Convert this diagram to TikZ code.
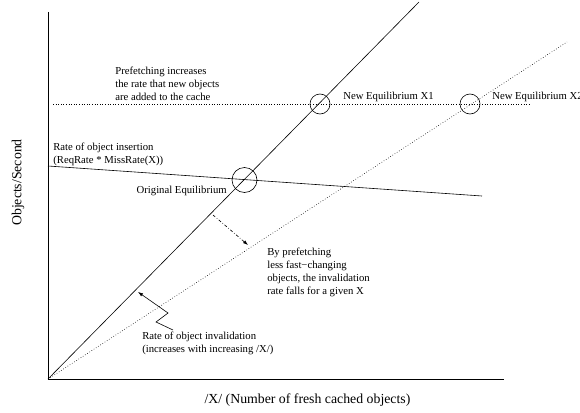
\documentclass[tikz,border=0pt]{standalone}
\usepackage{fontspec}
\setmainfont{Liberation Serif}
\usetikzlibrary{arrows.meta}

\tikzset{
  note/.style={font=\fontsize{10.7}{13}\selectfont, align=left, inner sep=0pt},
  axislabel/.style={font=\fontsize{13.8}{16}\selectfont, inner sep=0pt},
  eqring/.style={draw, circle, inner sep=0pt},
  pointer/.style={-{Latex[length=5pt,width=3.5pt]}, line width=0.6pt}
}

\begin{document}
\begin{tikzpicture}[x=1pt, y=-1pt, line width=0.6pt]
        \useasboundingbox (0,0) rectangle (580,412);
        % Axes
        \coordinate (origin) at (48,379);
        \coordinate (ytop) at (48,12);
        \coordinate (xend) at (504,379);
        \draw[line width=0.8pt] (ytop) -- (origin) -- (xend);
        \node[axislabel] (xlab) at (307.5,400) {/X/ (Number of fresh cached objects)};
        \node[axislabel, rotate=90] (ylab) at (18,182.5) {Objects/Second};
        % Invalidation rates
        \coordinate (solidtop) at (419,2);
        \coordinate (dottop) at (567,42);
        \draw (origin) -- (solidtop);
        \draw[dotted] (origin) -- (dottop);
        % Insertion rates
        \coordinate (insA) at (48,166);
        \coordinate (insB) at (482,196);
        \draw (insA) -- (insB);
        \coordinate (preA) at (53,104);
        \coordinate (preB) at (531,104);
        \draw[dotted] (preA) -- (preB);
        % Equilibria
        \node[eqring, minimum size=25pt] (orig) at (244.5,180) {};
        \node[eqring, minimum size=20pt] (eqone) at (320,104) {};
        \node[eqring, minimum size=20pt] (eqtwo) at (470,104) {};
        \node[note, anchor=east] (origlab) at (227,191) {Original Equilibrium};
        \node[note, anchor=west] (onelab) at (343,97) {New Equilibrium X1};
        \node[note, anchor=west] (twolab) at (492,97) {New Equilibrium X2};
        % Notes
        \node[note, anchor=west] (prelab) at (115,84)
          {Prefetching increases\\the rate that new objects\\are added to the cache};
        \node[note, anchor=west] (inslab) at (53,154)
          {Rate of object insertion\\(ReqRate * MissRate(X))};
        \node[note, anchor=west] (falllab) at (267,272.5)
          {By prefetching\\less fast−changing\\objects, the invalidation\\rate falls for a given X};
        \node[note, anchor=west] (invlab) at (142,343.5)
          {Rate of object invalidation\\(increases with increasing /X/)};
        % Pointers
        \coordinate (shiftA) at (213,215);
        \coordinate (shiftB) at (248,245);
        \draw[pointer, dash dot] (shiftA) -- (shiftB);
        \coordinate (zigA) at (173,330);
        \coordinate (zigB) at (156,322);
        \coordinate (zigC) at (168,313);
        \coordinate (zigD) at (138,292);
        \draw[pointer] (zigA) -- (zigB) -- (zigC) -- (zigD);
      \end{tikzpicture}
\end{document}
